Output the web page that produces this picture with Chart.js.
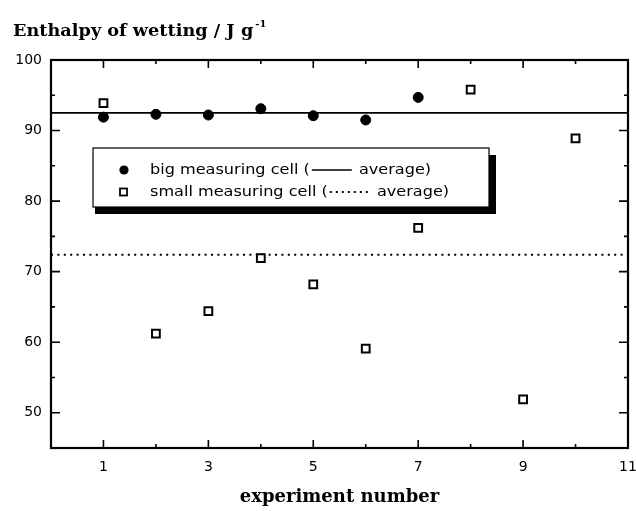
<!DOCTYPE html>
<html>
<head>
<meta charset="utf-8">
<script src="https://cdn.jsdelivr.net/npm/chart.js@4"></script>
<style>
  html, body { margin: 0; padding: 0; background: white; }
  #wrap { position: relative; width: 636px; height: 511px; }
</style>
</head>
<body>
<div id="wrap"><canvas id="c"></canvas></div>
<script>
// Enthalpy of wetting: big vs small measuring cell
const bigExp = [1, 2, 3, 4, 5, 6, 7];
const bigCell = [91.9, 92.3, 92.2, 93.1, 92.1, 91.5, 94.7];
const smallExp = [1, 2, 3, 4, 5, 6, 7, 8, 9, 10];
const smallCell = [93.9, 61.2, 64.4, 71.9, 68.2, 59.1, 76.2, 95.8, 51.9, 88.9];
const bigAverage = 92.5;
const smallAverage = 72.4;

const xRange = [0, 11];
const yRange = [45, 100];
const xTickLabels = [1, 3, 5, 7, 9, 11];
const xMinorTicks = [2, 4, 6, 8, 10];
const yTickLabels = [50, 60, 70, 80, 90, 100];
const yMinorTicks = [55, 65, 75, 85, 95];

const legendRows = [
  { before: 'big measuring cell (', after: ' average)', marker: 'circle', dash: [] },
  { before: 'small measuring cell (', after: ' average)', marker: 'rect', dash: [2, 4] }
];

function pts(xs, ys) {
  return xs.map(function (x, i) { return { x: x, y: ys[i] }; });
}

// stretched text, the scan is wider than any installed face
function wideText(ctx, text, x, y, sx) {
  ctx.save();
  ctx.translate(x, y);
  ctx.scale(sx, 1);
  ctx.fillText(text, 0, 0);
  ctx.restore();
  return ctx.measureText(text).width * sx;
}

// frame + inward tick marks on all four sides
const framePlugin = {
  id: 'frame',
  afterDatasetsDraw: function (chart) {
    const ctx = chart.ctx, a = chart.chartArea;
    const x = chart.scales.x, y = chart.scales.y;
    ctx.save();
    ctx.strokeStyle = '#000';
    ctx.lineWidth = 1.6;
    function tick(list, len) {
      list.forEach(function (v) {
        const px = x.getPixelForValue(v);
        ctx.beginPath();
        ctx.moveTo(px, a.bottom); ctx.lineTo(px, a.bottom - len);
        ctx.moveTo(px, a.top); ctx.lineTo(px, a.top + len);
        ctx.stroke();
      });
    }
    function ytick(list, len) {
      list.forEach(function (v) {
        const py = y.getPixelForValue(v);
        ctx.beginPath();
        ctx.moveTo(a.left, py); ctx.lineTo(a.left + len, py);
        ctx.moveTo(a.right, py); ctx.lineTo(a.right - len, py);
        ctx.stroke();
      });
    }
    tick(xTickLabels, 8);
    tick(xMinorTicks, 4);
    ytick(yTickLabels, 9);
    ytick(yMinorTicks, 4);
    ctx.lineWidth = 2.2;
    ctx.strokeRect(a.left, a.top, a.right - a.left, a.bottom - a.top);
    ctx.restore();
  }
};

// legend box with drop shadow, and the page title
const legendPlugin = {
  id: 'boxLegend',
  afterDraw: function (chart) {
    const ctx = chart.ctx;
    ctx.save();
    // title
    ctx.fillStyle = '#000';
    ctx.textBaseline = 'alphabetic';
    ctx.font = 'bold 17px "DejaVu Serif"';
    const w = wideText(ctx, 'Enthalpy of wetting / J g', 13, 36, 1.04);
    ctx.font = 'bold 10px "DejaVu Serif"';
    ctx.fillText('-1', 13 + w + 2, 27);

    // legend
    const bx = 93, by = 148, bw = 396, bh = 59;
    ctx.fillStyle = '#000';
    ctx.fillRect(bx + 2, by + 7, bw + 5, bh);
    ctx.fillStyle = '#fff';
    ctx.fillRect(bx, by, bw, bh);
    ctx.strokeStyle = '#000';
    ctx.lineWidth = 1.2;
    ctx.strokeRect(bx, by, bw, bh);

    ctx.font = '14px "DejaVu Sans"';
    ctx.textBaseline = 'middle';
    legendRows.forEach(function (r, i) {
      const ry = by + 22 + i * 22;
      // marker
      ctx.lineWidth = 1.8;
      if (r.marker === 'circle') {
        ctx.fillStyle = '#000';
        ctx.beginPath();
        ctx.arc(124, ry, 4.6, 0, Math.PI * 2);
        ctx.fill();
      } else {
        ctx.strokeRect(120, ry - 3.5, 7, 7);
      }
      ctx.fillStyle = '#000';
      let tx = 150;
      tx += wideText(ctx, r.before, tx, ry, 1.15);
      ctx.setLineDash(r.dash);
      ctx.lineWidth = r.dash.length ? 1.8 : 1.5;
      ctx.beginPath();
      ctx.moveTo(tx + 2, ry);
      ctx.lineTo(tx + 42, ry);
      ctx.stroke();
      ctx.setLineDash([]);
      wideText(ctx, r.after, tx + 44, ry, 1.15);
    });
    ctx.restore();
  }
};

const ctx = document.getElementById('c').getContext('2d');
new Chart(ctx, {
  type: 'scatter',
  data: {
    datasets: [
      {
        label: 'big measuring cell',
        data: pts(bigExp, bigCell),
        pointStyle: 'circle',
        pointRadius: 5,
        backgroundColor: '#000',
        borderColor: '#000',
        borderWidth: 1
      },
      {
        label: 'small measuring cell',
        data: pts(smallExp, smallCell),
        pointStyle: 'rect',
        pointRadius: 5.5,
        backgroundColor: '#fff',
        borderColor: '#000',
        borderWidth: 2
      },
      {
        label: 'big average',
        data: pts(xRange, [bigAverage, bigAverage]),
        showLine: true,
        pointRadius: 0,
        borderColor: '#000',
        borderWidth: 1.6
      },
      {
        label: 'small average',
        data: pts(xRange, [smallAverage, smallAverage]),
        showLine: true,
        pointRadius: 0,
        borderColor: '#000',
        borderWidth: 2,
        borderDash: [2, 4.4]
      }
    ]
  },
  options: {
    responsive: true,
    maintainAspectRatio: false,
    animation: false,
    layout: { padding: { top: 60, left: 0, right: 0, bottom: 0 } },
    plugins: {
      legend: { display: false },
      tooltip: { enabled: false }
    },
    scales: {
      x: {
        type: 'linear',
        min: xRange[0], max: xRange[1],
        grid: { display: false, drawTicks: false },
        border: { display: false },
        afterBuildTicks: function (s) {
          s.ticks = xTickLabels.map(function (v) { return { value: v }; });
        },
        afterFit: function (s) {
          s.height = 63;
          s.paddingLeft = 0;
          s.paddingRight = 8;
        },
        ticks: {
          padding: 11,
          color: '#000',
          font: { family: 'DejaVu Sans', size: 14 },
          maxRotation: 0
        },
        title: {
          display: true,
          text: 'experiment number',
          color: '#000',
          font: { family: 'DejaVu Serif', size: 18, weight: 'bold' },
          padding: { top: 0, bottom: 3 }
        }
      },
      y: {
        type: 'linear',
        min: yRange[0], max: yRange[1],
        grid: { display: false, drawTicks: false },
        border: { display: false },
        afterBuildTicks: function (s) {
          s.ticks = yTickLabels.map(function (v) { return { value: v }; });
        },
        afterFit: function (s) {
          s.width = 51;
          s.paddingTop = 0;
          s.paddingBottom = 0;
        },
        ticks: {
          padding: 9,
          color: '#000',
          font: { family: 'DejaVu Sans', size: 14 }
        }
      }
    }
  },
  plugins: [framePlugin, legendPlugin]
});
</script>
</body>
</html>
